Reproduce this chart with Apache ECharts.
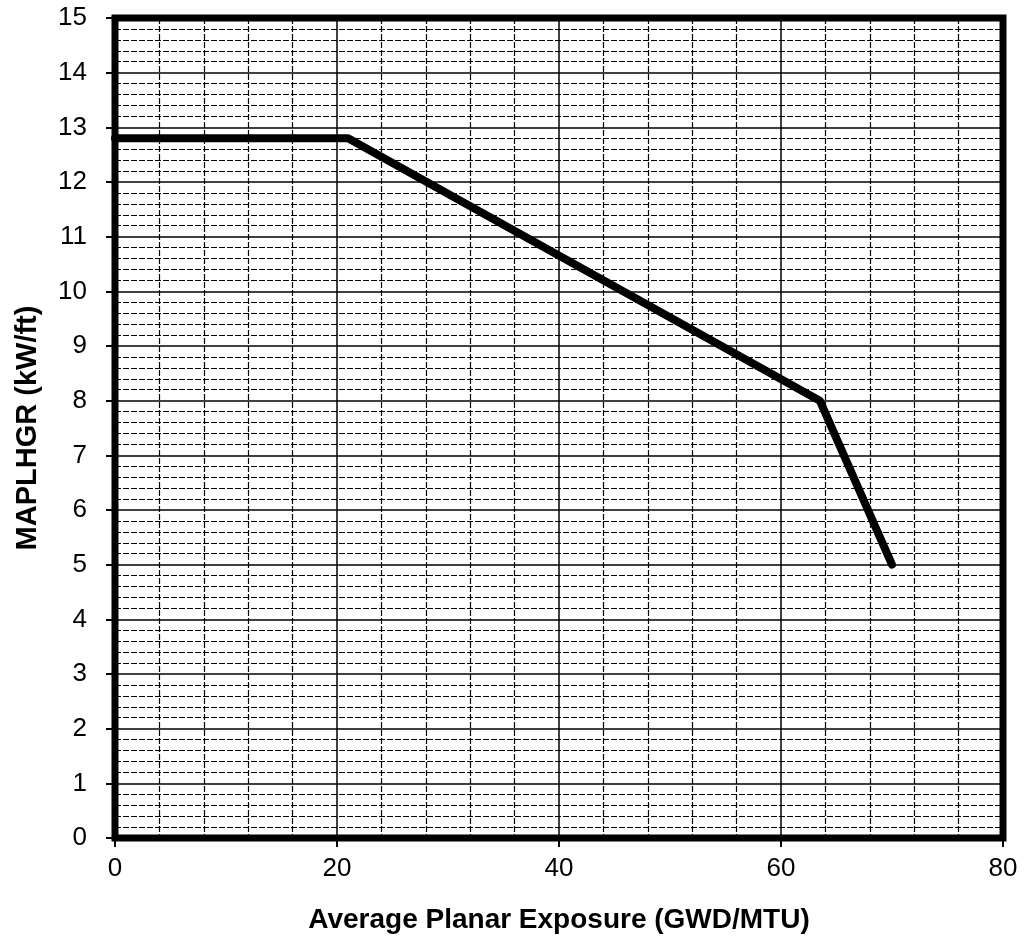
<!DOCTYPE html>
<html>
<head>
<meta charset="utf-8">
<script src="https://cdn.jsdelivr.net/npm/echarts@6/dist/echarts.min.js"></script>
<style>
  html, body { margin: 0; padding: 0; background: #fff; }
  #chart { width: 1027px; height: 945px; }
</style>
</head>
<body>
<div id="chart"></div>
<script>
// MAPLHGR limit versus average planar exposure
const exposure = [0, 21, 63.5, 70];          // GWD/MTU
const maplhgr  = [12.8, 12.8, 8.0, 5.0];      // kW/ft
const xTitle = 'Average Planar Exposure (GWD/MTU)';
const yTitle = 'MAPLHGR (kW/ft)';

const points = exposure.map((x, i) => [x, maplhgr[i]]);
const font = '"Liberation Sans", Arial, sans-serif';

const chart = echarts.init(document.getElementById('chart'));
chart.setOption({
  animation: false,
  backgroundColor: '#fff',
  grid: {
    left: 115, right: 24, top: 18, bottom: 107,
    show: true, borderColor: '#000', borderWidth: 7, backgroundColor: 'transparent'
  },
  xAxis: {
    type: 'value', min: 0, max: 80, interval: 20,
    name: xTitle, nameLocation: 'middle', nameGap: 68,
    nameTextStyle: { fontFamily: font, fontWeight: 'bold', fontSize: 28, color: '#000' },
    axisLine: { show: false },
    axisTick: { show: true, length: 9, lineStyle: { color: '#000', width: 2 } },
    axisLabel: { fontFamily: font, fontSize: 26, color: '#000', margin: 18 },
    splitLine: { show: true, lineStyle: { color: '#000', width: 1.5 } },
    minorTick: { show: false, splitNumber: 5 },
    minorSplitLine: { show: true, lineStyle: { color: '#000', width: 1.2, type: [6, 2] } }
  },
  yAxis: {
    type: 'value', min: 0, max: 15, interval: 1,
    name: yTitle, nameLocation: 'middle', nameGap: 73, nameRotate: 90,
    nameTextStyle: { fontFamily: font, fontWeight: 'bold', fontSize: 29, color: '#000' },
    axisLine: { show: false },
    axisTick: { show: true, length: 9, lineStyle: { color: '#000', width: 2 } },
    axisLabel: { fontFamily: font, fontSize: 26, color: '#000', margin: 28 },
    splitLine: { show: true, lineStyle: { color: '#000', width: 1.5 } },
    minorTick: { show: false, splitNumber: 5 },
    minorSplitLine: { show: true, lineStyle: { color: '#000', width: 1.2, type: [6, 2] } }
  },
  series: [{
    type: 'line',
    data: points,
    showSymbol: false,
    lineStyle: { color: '#000', width: 8, cap: 'round', join: 'round' },
    z: 5
  }]
});
</script>
</body>
</html>
